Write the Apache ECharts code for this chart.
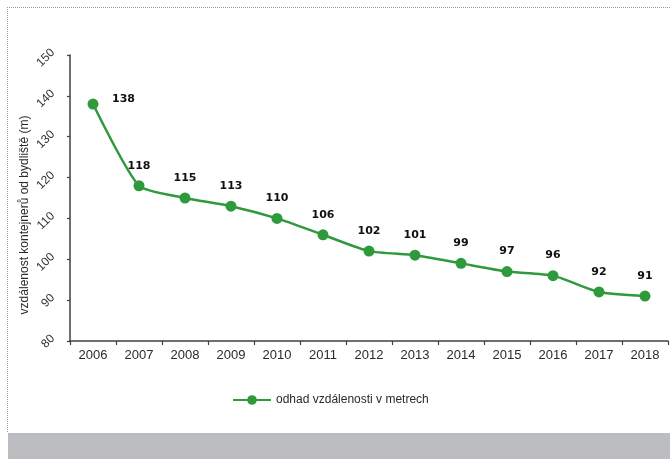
<!DOCTYPE html>
<html>
<head>
<meta charset="utf-8">
<script src="https://cdn.jsdelivr.net/npm/echarts@6/dist/echarts.min.js"></script>
<style>
html, body { margin: 0; padding: 0; background: #fff; }
#chart { width: 670px; height: 459px; }
</style>
</head>
<body>
<div id="chart"></div>
<script>
// Estimated distance of waste containers from home, in metres
const years = ['2006', '2007', '2008', '2009', '2010', '2011', '2012', '2013', '2014', '2015', '2016', '2017', '2018'];
const distances = [138, 118, 115, 113, 110, 106, 102, 101, 99, 97, 96, 92, 91];
const seriesName = 'odhad vzdálenosti v metrech';
const yAxisTitle = 'vzdálenost kontejnerů od bydliště (m)';

const green = '#2f9a3c';
const axisColor = '#404040';
const textColor = '#2a2a2a';
const sans = 'Liberation Sans, Arial, sans-serif';

const chart = echarts.init(document.getElementById('chart'), null, { renderer: 'canvas' });

chart.setOption({
  animation: false,
  backgroundColor: '#ffffff',
  graphic: [
    // dotted frame on the top and left
    { type: 'line', shape: { x1: 7, y1: 7.5, x2: 670, y2: 7.5 }, style: { stroke: '#9a9a9a', lineWidth: 1, lineDash: [1, 1] }, silent: true },
    { type: 'line', shape: { x1: 7.5, y1: 7, x2: 7.5, y2: 433 }, style: { stroke: '#9a9a9a', lineWidth: 1, lineDash: [1, 1] }, silent: true },
    // grey footer band
    { type: 'rect', shape: { x: 8, y: 433, width: 662, height: 26 }, style: { fill: '#bcbdc0' }, silent: true }
  ],
  grid: { left: 70, right: 2, top: 55, bottom: 118, containLabel: false },
  legend: {
    data: [seriesName],
    left: 227,
    top: 389,
    itemWidth: 38,
    itemHeight: 12,
    itemGap: 6,
    textStyle: { fontFamily: sans, fontSize: 12, color: textColor }
  },
  xAxis: {
    type: 'category',
    data: years,
    boundaryGap: true,
    axisLine: { lineStyle: { color: axisColor, width: 1.5 } },
    axisTick: { show: true, length: 4, lineStyle: { color: axisColor, width: 1.2 } },
    axisLabel: { fontFamily: sans, fontSize: 13, color: textColor, margin: 8 },
    splitLine: { show: false }
  },
  yAxis: {
    type: 'value',
    min: 80,
    max: 150,
    interval: 10,
    name: yAxisTitle,
    nameLocation: 'middle',
    nameGap: 39,
    nameMoveOverlap: false,
    nameRotate: 90,
    nameTextStyle: { fontFamily: sans, fontSize: 12, color: textColor, padding: [0, 34, 0, 0] },
    axisLine: { show: true, lineStyle: { color: axisColor, width: 1.5 } },
    axisTick: { show: true, length: 3, lineStyle: { color: axisColor, width: 1.2 } },
    axisLabel: { rotate: 45, fontFamily: sans, fontSize: 12, color: '#333333', margin: 13, verticalAlign: 'bottom' },
    splitLine: { show: false }
  },
  series: [{
    name: seriesName,
    type: 'line',
    data: distances,
    smooth: 0.2,
    symbol: 'circle',
    symbolSize: 11,
    lineStyle: { color: green, width: 2.5 },
    itemStyle: { color: green },
    label: {
      show: true,
      position: 'top',
      distance: 9,
      fontFamily: 'DejaVu Sans, Verdana, sans-serif',
      fontWeight: 'bold',
      fontSize: 11,
      color: '#111111',
      formatter: p => p.value
    },
    labelLayout: (params) => params.dataIndex === 0
      ? { x: params.rect.x + params.rect.width + 25, y: params.rect.y + params.rect.height / 2 - 5, align: 'center', verticalAlign: 'middle' }
      : {}
  }]
});
</script>
</body>
</html>
